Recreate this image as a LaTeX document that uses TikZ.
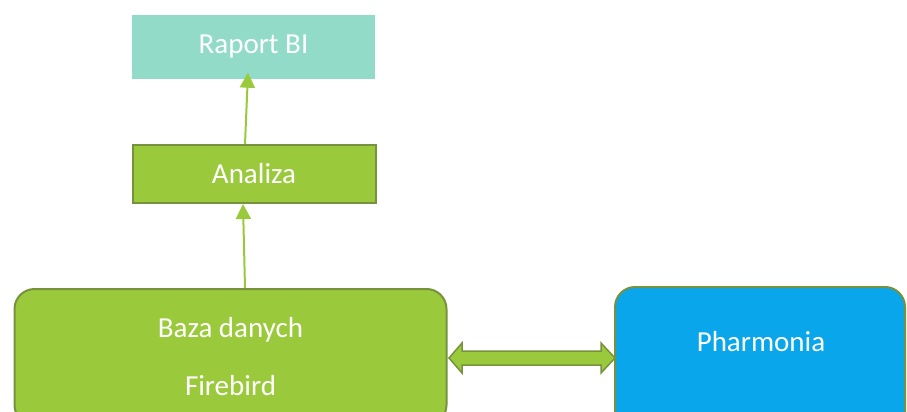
\documentclass[tikz,border=0pt]{standalone}
\usepackage{fontspec}
\setmainfont{Carlito}
\usetikzlibrary{arrows.meta,calc}
\definecolor{tealbox}{HTML}{92DBC9}
\definecolor{lgreen}{HTML}{9ACA3C}
\definecolor{dgreen}{HTML}{76923C}
\definecolor{bluebox}{HTML}{0AA6EC}
\begin{document}
\begin{tikzpicture}[x=1pt,y=-1pt,
  box/.style={rectangle,inner sep=0pt,text=white,font=\fontsize{29}{58}\selectfont},
  conn/.style={draw=lgreen,line width=2pt,-{Triangle[length=15pt,width=15pt]}}]
\useasboundingbox (0,0) rectangle (907,412);
\clip (0,0) rectangle (907,412);
\node[box,fill=tealbox,minimum width=243pt,minimum height=63pt] (raport) at (253.5,47) {Raport BI};
\node[box,fill=lgreen,draw=dgreen,line width=2pt,minimum width=243pt,minimum height=58pt] (analiza) at (254,174) {Analiza};
\node[box,fill=lgreen,draw=dgreen,line width=2pt,rounded corners=20pt,minimum width=432pt,minimum height=136pt,align=center] (baza) at (230.5,357) {Baza danych\\Firebird};
\node[box,fill=bluebox,draw=dgreen,line width=2pt,rounded corners=20pt,minimum width=290pt,minimum height=160pt] (pharm) at (760,367) {};
\node[box] (pharmtxt) at (761,342) {Pharmonia};
\draw[conn] ($(baza.north)+(14.5,0)$) -- ($(analiza.south)+(-11,0)$);
\draw[conn] ($(analiza.north)+(-9,0)$) -- ($(raport.south)+(-5.5,-6)$);
\coordinate (al) at (449,358);
\coordinate (ar) at (615,358);
\draw[fill=lgreen,draw=dgreen,line width=1.5pt,line join=miter]
  (al) -- ++(13,-15) -- ++(0,8) -- ($(ar)+(-14,-7)$) -- ++(0,-8) -- (ar)
  -- ++(-14,15) -- ++(0,-8) -- ($(al)+(13,7)$) -- ++(0,8) -- cycle;
\end{tikzpicture}
\end{document}
